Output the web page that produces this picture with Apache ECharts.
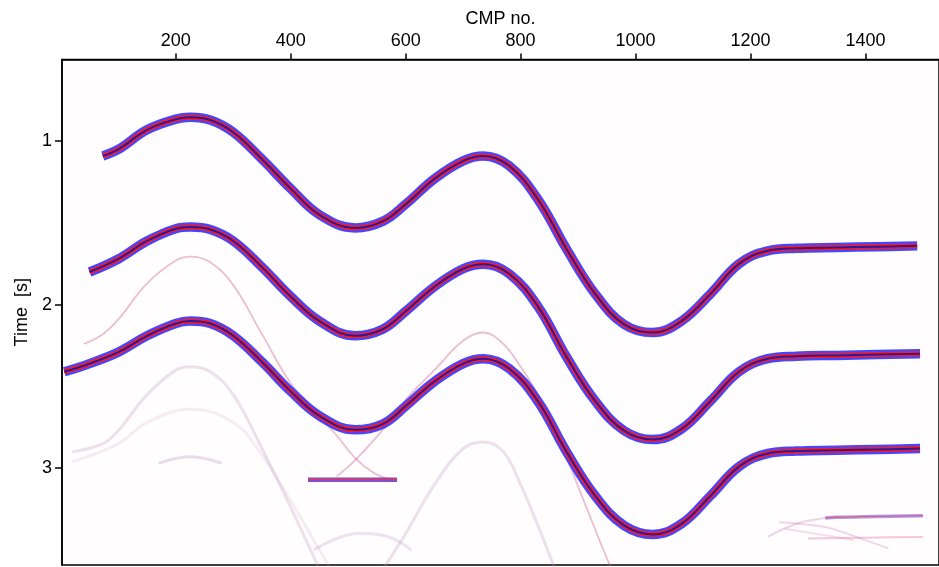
<!DOCTYPE html>
<html>
<head>
<meta charset="utf-8">
<script src="https://cdn.jsdelivr.net/npm/echarts@6/dist/echarts.min.js"></script>
<style>
html,body{margin:0;padding:0;background:#fff;}
#chart{width:939px;height:567px;}
</style>
</head>
<body>
<div id="chart"></div>
<script>
// ---- data (CMP no., time in s) ----
const xTicks = [200, 400, 600, 800, 1000, 1200, 1400];
const yTicks = [1, 2, 3];

// primary reflectors
const horizon1 = [[73,1.09],[100,1.05],[150,0.93],[200,0.865],[225,0.853],[260,0.87],[300,0.945],[350,1.11],[400,1.29],[450,1.45],[512,1.53],[560,1.49],[600,1.385],[650,1.23],[700,1.12],[735,1.09],[780,1.15],[830,1.355],[880,1.66],[930,1.935],[980,2.12],[1030,2.17],[1080,2.10],[1130,1.935],[1180,1.75],[1230,1.67],[1280,1.655],[1350,1.65],[1420,1.645],[1490,1.64]];
const horizon2 = [[50,1.80],[100,1.72],[150,1.61],[200,1.535],[225,1.525],[260,1.54],[300,1.61],[350,1.77],[400,1.95],[450,2.10],[512,2.19],[560,2.15],[600,2.04],[650,1.89],[700,1.78],[735,1.752],[780,1.81],[830,2.01],[880,2.32],[930,2.59],[980,2.77],[1030,2.825],[1080,2.76],[1130,2.59],[1180,2.41],[1230,2.33],[1280,2.315],[1350,2.31],[1420,2.305],[1495,2.30]];
const horizon3 = [[6,2.41],[25,2.39],[50,2.36],[100,2.29],[150,2.19],[200,2.115],[225,2.10],[260,2.115],[300,2.19],[350,2.35],[400,2.53],[450,2.68],[512,2.765],[560,2.73],[600,2.62],[650,2.47],[700,2.36],[735,2.33],[780,2.39],[830,2.59],[880,2.90],[930,3.17],[980,3.35],[1030,3.405],[1080,3.34],[1130,3.17],[1180,2.99],[1230,2.91],[1280,2.895],[1350,2.89],[1420,2.885],[1495,2.88]];

// faint multiples / diffractions
const multipleLeft  = [[40,2.24],[73,2.18],[100,2.09],[150,1.87],[200,1.73],[225,1.706],[260,1.74],[300,1.88],[350,2.18],[400,2.48],[450,2.68],[480,2.80],[514,2.945],[545,3.03],[575,3.07]];
const multipleRight = [[480,3.05],[514,2.945],[571,2.72],[600,2.58],[650,2.40],[700,2.22],[735,2.17],[770,2.24],[800,2.38],[830,2.55],[870,2.85],[910,3.2],[950,3.55],[960,3.62]];
const multipleFlat  = [[430,3.07],[585,3.07]];
const peglegLeft    = [[20,2.90],[73,2.85],[100,2.77],[150,2.55],[200,2.40],[225,2.38],[260,2.41],[300,2.55],[350,2.88],[400,3.24],[450,3.62]];
const peglegRight   = [[560,3.62],[600,3.40],[650,3.10],[700,2.88],[735,2.84],[770,2.90],[800,3.10],[830,3.35],[860,3.62]];
const deepArc       = [[20,2.96],[100,2.85],[150,2.72],[225,2.64],[300,2.72],[350,2.92],[400,3.2],[450,3.5],[470,3.62]];
const smallArc      = [[170,2.97],[225,2.93],[280,2.97]];
const bottomU       = [[440,3.50],[480,3.43],[520,3.40],[570,3.42],[610,3.5]];
const tailFaint     = [[1230,3.42],[1280,3.34],[1330,3.305]];
const multipleTail  = [[1330,3.305],[1350,3.30],[1420,3.295],[1500,3.29]];
const lowerTail     = [[1300,3.43],[1400,3.425],[1500,3.42]];
const tailDiag1     = [[1250,3.33],[1330,3.36],[1400,3.44],[1440,3.49]];
const tailDiag2     = [[1260,3.37],[1330,3.41],[1380,3.44]];

const chart = echarts.init(document.getElementById('chart'));
const FONT = 'Liberation Sans';

function line(data, color, width, smooth, z) {
  return {
    type: 'line', data: data, showSymbol: false, symbol: 'none',
    smooth: smooth === undefined ? 0.4 : smooth, clip: true, z: z || 2,
    silent: true, animation: false,
    lineStyle: { color: color, width: width, cap: 'butt', join: 'round' }
  };
}
function band(data) {
  return [
    line(data, 'rgba(60,60,255,0.95)', 9.5, 0.4, 5),
    line(data, '#ff1a1a', 5, 0.4, 6),
    line(data, '#2a1a9a', 2, 0.4, 7)
  ];
}

const faint = 'rgba(200,90,140,0.38)';
const faint2 = 'rgba(185,140,185,0.25)';

const series = [
  line(multipleLeft, faint, 1.8, 0.4, 3),
  line(multipleRight, faint, 1.8, 0.4, 3),
  line(peglegLeft, faint2, 3, 0.4, 2),
  line(peglegRight, faint2, 3, 0.4, 2),
  line(deepArc, 'rgba(200,160,195,0.18)', 3, 0.4, 2),
  line(smallArc, 'rgba(170,120,170,0.25)', 3, 0.4, 2),
  line(bottomU, 'rgba(170,130,195,0.22)', 3, 0.4, 2),
  line(multipleFlat, 'rgba(60,60,255,0.85)', 4.5, 0, 4),
  line(multipleFlat, '#ff3030', 1.8, 0, 4),
  line(tailFaint, 'rgba(200,120,180,0.3)', 2, 0.4, 3),
  line(multipleTail, 'rgba(100,100,255,0.6)', 3.5, 0.4, 4),
  line(multipleTail, 'rgba(255,70,70,0.7)', 1.3, 0.4, 4),
  line(lowerTail, 'rgba(230,120,160,0.4)', 2, 0.3, 3),
  line(tailDiag1, 'rgba(210,130,180,0.3)', 2, 0.3, 3),
  line(tailDiag2, 'rgba(210,130,180,0.25)', 2, 0.3, 3)
].concat(band(horizon1), band(horizon2), band(horizon3));

const fmt = v => String(v);

chart.setOption({
  animation: false,
  backgroundColor: '#ffffff',
  grid: {
    left: 62, top: 59.5, right: -3, bottom: 2,
    show: true, borderColor: '#000', borderWidth: 1.5,
    backgroundColor: '#fffdfd'
  },
  xAxis: {
    type: 'value', position: 'top', min: 2, max: 1528,
    name: 'CMP no.', nameLocation: 'middle', nameGap: 31,
    nameTextStyle: { fontFamily: FONT, fontSize: 18, color: '#000' },
    axisLine: { show: true, lineStyle: { color: '#000', width: 1.5 } },
    axisTick: { show: true, customValues: xTicks, length: 6, inside: false, lineStyle: { color: '#000', width: 1.5 } },
    axisLabel: { show: true, customValues: xTicks, formatter: fmt, fontFamily: FONT, fontSize: 18, color: '#000', margin: 9 },
    splitLine: { show: false }
  },
  yAxis: {
    type: 'value', inverse: true, min: 0.5, max: 3.592,
    name: 'Time  [s]', nameLocation: 'middle', nameGap: 31, nameRotate: 90,
    nameTextStyle: { fontFamily: FONT, fontSize: 18, color: '#000' },
    axisLine: { show: true, lineStyle: { color: '#000', width: 1.5 } },
    axisTick: { show: true, customValues: yTicks, length: 7, lineStyle: { color: '#000', width: 1.5 } },
    axisLabel: { show: true, customValues: yTicks, formatter: fmt, fontFamily: FONT, fontSize: 18, color: '#000', margin: 10 },
    splitLine: { show: false }
  },
  series: series
});
</script>
</body>
</html>
